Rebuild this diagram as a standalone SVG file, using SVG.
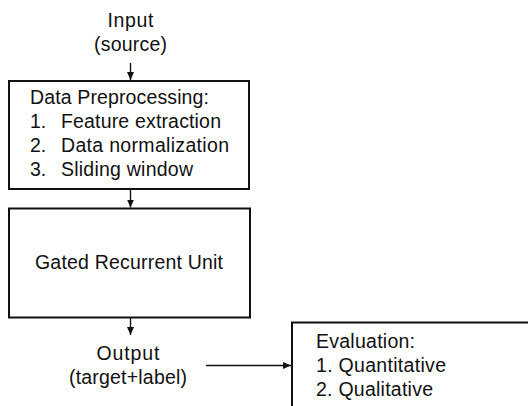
<svg xmlns="http://www.w3.org/2000/svg" width="528" height="406" viewBox="0 0 528 406">
<style>
text{font-family:"Liberation Sans","Open Sans",Arial,sans-serif;font-size:19.5px;fill:#111}
.box{fill:#fff;stroke:#111;stroke-width:2}
.c{stroke:#111;stroke-width:1.4;fill:none;marker-end:url(#ah)}
.m{text-anchor:middle}
</style>
<defs>
<marker id="ah" viewBox="0 0 8 8" refX="8" refY="4" markerWidth="8" markerHeight="8" markerUnits="userSpaceOnUse" orient="auto">
<path d="M0,0.5 L8,4 L0,7.5 Z" fill="#111"/>
</marker>
</defs>
<rect width="528" height="406" fill="#fff"/>
<g id="input">
<text class="m" x="130.5" y="27" textLength="46">Input</text>
<text class="m" x="130.5" y="51" textLength="73">(source)</text>
</g>
<g id="preprocessing">
<rect class="box" x="9" y="81" width="240" height="108"/>
<text x="30" y="104" textLength="179">Data Preprocessing:</text>
<text x="30" y="128">1.</text><text x="61" y="128" textLength="160">Feature extraction</text>
<text x="30" y="152">2.</text><text x="61" y="152" textLength="168">Data normalization</text>
<text x="30" y="176">3.</text><text x="61" y="176" textLength="132">Sliding window</text>
</g>
<g id="gru">
<rect class="box" x="9" y="208.5" width="241" height="109"/>
<text x="35" y="269" textLength="188">Gated Recurrent Unit</text>
</g>
<g id="output">
<text class="m" x="128" y="360" textLength="63">Output</text>
<text class="m" x="128" y="384" textLength="118">(target+label)</text>
</g>
<g id="evaluation">
<rect class="box" x="292" y="322.5" width="250" height="100"/>
<text x="316" y="348" textLength="99">Evaluation:</text>
<text x="316" y="372" textLength="130">1. Quantitative</text>
<text x="316" y="396" textLength="117">2. Qualitative</text>
</g>
<g id="connectors">
<line class="c" x1="130.5" y1="63" x2="130.5" y2="80"/>
<line class="c" x1="130.5" y1="190" x2="130.5" y2="207.5"/>
<line class="c" x1="130.5" y1="318" x2="130.5" y2="335"/>
<line class="c" x1="206" y1="365.5" x2="291" y2="365.5"/>
</g>
</svg>
